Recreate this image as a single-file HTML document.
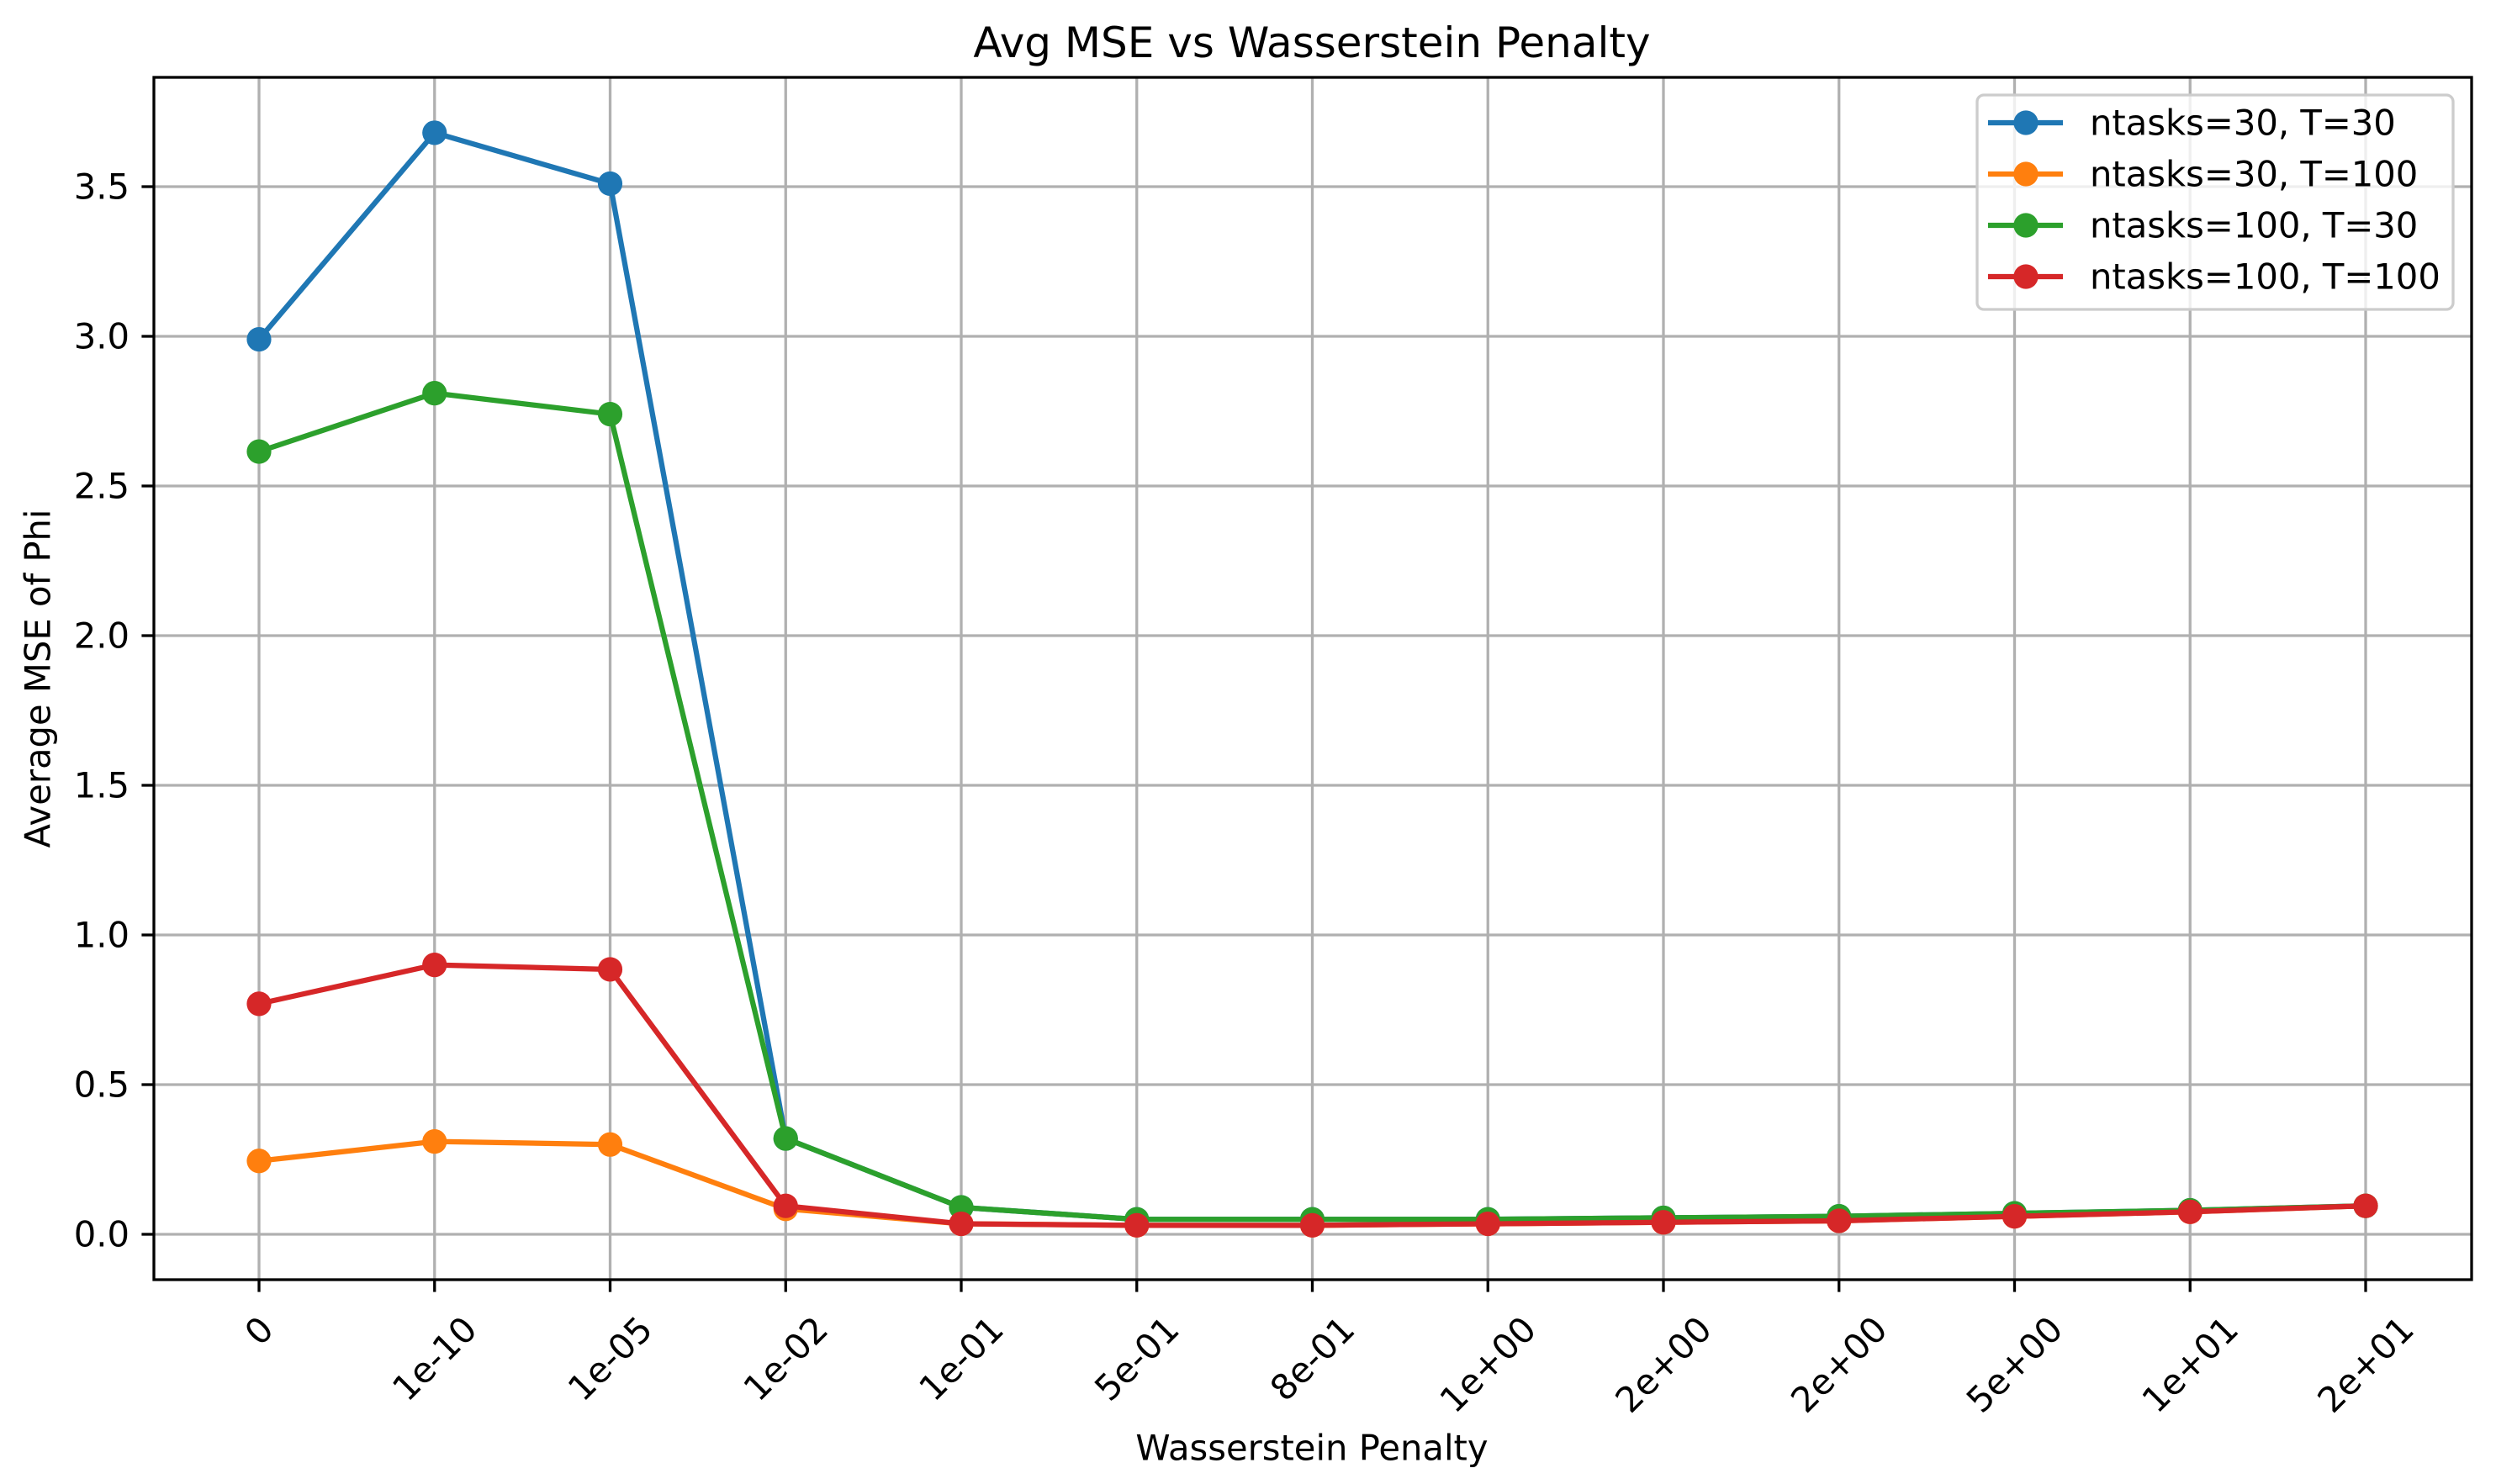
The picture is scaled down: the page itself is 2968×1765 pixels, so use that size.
<!DOCTYPE html>
<html><head><meta charset="utf-8"><style>
html,body{margin:0;padding:0;background:#fff;}
svg{display:block;font-family:"DejaVu Sans","Liberation Sans",sans-serif;}
</style></head><body>
<svg id="chart" width="2968" height="1765" viewBox="0 0 2968 1765" xmlns="http://www.w3.org/2000/svg">
<rect width="2968" height="1765" fill="#fff"/>
<g id="grid"></g>
<g id="series"></g>
<g id="axes"></g>
<text x="1560" y="51" font-size="50" text-anchor="middle" dominant-baseline="central">Avg MSE vs Wasserstein Penalty</text>
<text x="1560" y="1722" font-size="41.7" text-anchor="middle" dominant-baseline="central">Wasserstein Penalty</text>
<text x="45" y="807" font-size="41.7" text-anchor="middle" dominant-baseline="central" transform="rotate(-90 45 807)">Average MSE of Phi</text>
<g id="legend"></g>
</svg>
<script>
const categories = ["0","1e-10","1e-05","1e-02","1e-01","5e-01","8e-01","1e+00","2e+00","2e+00","5e+00","1e+01","2e+01"];
const seriesNames = ["ntasks=30, T=30","ntasks=30, T=100","ntasks=100, T=30","ntasks=100, T=100"];
const seriesColors = ["#1f77b4","#ff7f0e","#2ca02c","#d62728"];
const blueValues = [2.99,3.68,3.51,0.32,0.09,0.05,0.05,0.05,0.055,0.06,0.07,0.08,0.095];
const orangeValues = [0.245,0.31,0.30,0.085,0.035,0.03,0.03,0.035,0.04,0.045,0.06,0.075,0.095];
const greenValues = [2.615,2.81,2.74,0.32,0.09,0.05,0.05,0.05,0.055,0.06,0.07,0.08,0.095];
const redValues = [0.77,0.90,0.885,0.095,0.035,0.03,0.03,0.035,0.04,0.045,0.06,0.075,0.095];
const yTicks = [0,0.5,1.0,1.5,2.0,2.5,3.0,3.5];
const yTickLabels = ["0.0","0.5","1.0","1.5","2.0","2.5","3.0","3.5"];

const NS="http://www.w3.org/2000/svg";
const L=183,R=2939,T=92,B=1522;
const x0=308,dx=(2813-308)/12;
const MR=14.6;
function xs(i){return x0+dx*i;}
function ys(v){return 1468-356*v;}
function mk(tag,attrs,parent){const e=document.createElementNS(NS,tag);for(const k in attrs)e.setAttribute(k,attrs[k]);parent.appendChild(e);return e;}
const grid=document.getElementById('grid'),axes=document.getElementById('axes'),ser=document.getElementById('series'),leg=document.getElementById('legend');

categories.forEach((c,i)=>{
  const gl=mk('line',{x1:xs(i),x2:xs(i),y1:T,y2:B,stroke:'#b0b0b0','stroke-width':3.3},grid);
  
  
  const tk=mk('line',{x1:xs(i),x2:xs(i),y1:B,y2:B+14.6,stroke:'#000','stroke-width':3.3},axes);
  
  
  const t=mk('text',{'font-size':41.7,'text-anchor':'middle','dominant-baseline':'central'},axes);
  t.textContent=c;
  
  
  const w=t.getComputedTextLength();
  const h=(w+32)*0.7071;
  const cy=1562+h/2, cx=xs(i);
  t.setAttribute('x',cx);t.setAttribute('y',cy);
  t.setAttribute('transform','rotate(-45 '+cx+' '+cy+')');
});
yTicks.forEach((v,i)=>{
  const gl=mk('line',{x1:L,x2:R,y1:ys(v),y2:ys(v),stroke:'#b0b0b0','stroke-width':3.3},grid);
  
  
  const tk=mk('line',{x1:L-14.6,x2:L,y1:ys(v),y2:ys(v),stroke:'#000','stroke-width':3.3},axes);
  
  
  const t=mk('text',{x:L-29,y:ys(v),'font-size':41.7,'text-anchor':'end','dominant-baseline':'central'},axes);
  t.textContent=yTickLabels[i];
  
  
});
const frame=mk('rect',{x:L,y:T,width:R-L,height:B-T,fill:'none',stroke:'#000','stroke-width':3.3},axes);



const allSeries=[blueValues,orangeValues,greenValues,redValues];
allSeries.forEach((vals,s)=>{
  const g=mk('g',{},ser);
  
  
  const pts=vals.map((v,i)=>xs(i)+','+ys(v)).join(' ');
  const pl=mk('polyline',{points:pts,fill:'none',stroke:seriesColors[s],'stroke-width':6.25,'stroke-linejoin':'round'},g);
  
  
  vals.forEach((v,i)=>{
    const c=mk('circle',{cx:xs(i),cy:ys(v),r:MR,fill:seriesColors[s]},g);
    
    
  });
});

const lb=mk('rect',{x:2351,y:113,width:566,height:255,rx:8,fill:'#fff','fill-opacity':0.8,stroke:'#cccccc','stroke-width':3.3},leg);


seriesNames.forEach((n,s)=>{
  const y=146+61*s;
  const g=mk('g',{},leg);
  
  
  mk('line',{x1:2364,x2:2453,y1:y,y2:y,stroke:seriesColors[s],'stroke-width':6.25},g);
  mk('circle',{cx:2409,cy:y,r:MR,fill:seriesColors[s]},g);
  const t=mk('text',{x:2485,y:y,'font-size':41.7,'dominant-baseline':'central'},g);
  t.textContent=n;
});
</script>
</body></html>
